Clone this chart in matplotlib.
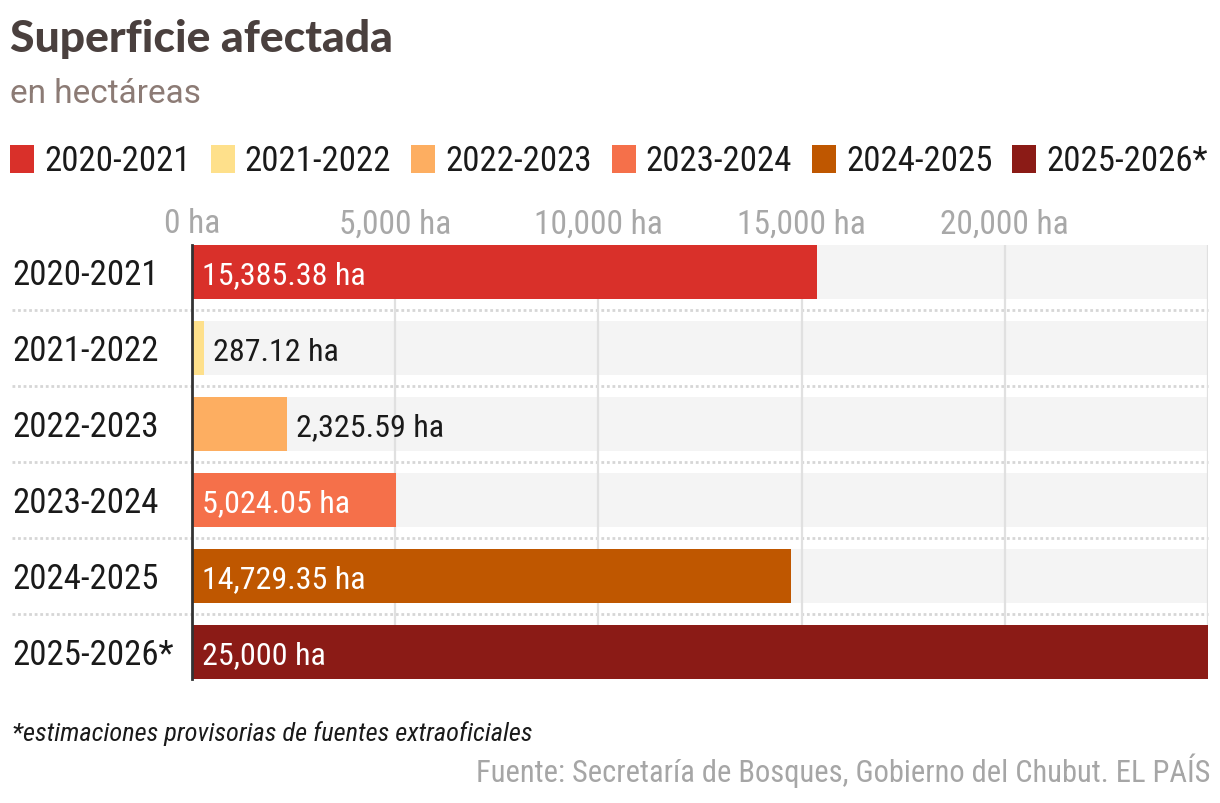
import matplotlib
matplotlib.use('Agg')
import matplotlib.pyplot as plt
from matplotlib import font_manager, transforms
from matplotlib.patches import Rectangle

# ---- data ----
seasons = ['2020-2021', '2021-2022', '2022-2023', '2023-2024', '2024-2025', '2025-2026*']
hectares = [15385.38, 287.12, 2325.59, 5024.05, 14729.35, 25000]
value_labels = ['15,385.38 ha', '287.12 ha', '2,325.59 ha', '5,024.05 ha', '14,729.35 ha', '25,000 ha']
colors = ['#d9302a', '#fee08b', '#fdae61', '#f5704a', '#bf5700', '#8b1b16']
ticks = [0, 5000, 10000, 15000, 20000]
tick_labels = ['0 ha', '5,000 ha', '10,000 ha', '15,000 ha', '20,000 ha']
xmax = 25000

avail = {f.name for f in font_manager.fontManager.ttflist}
def pick(*names):
    for n in names:
        if n in avail:
            return n
    return 'DejaVu Sans'
NARROW = pick('Liberation Sans Narrow', 'Roboto Condensed', 'Roboto', 'Liberation Sans')
HEAVY = pick('Lato', 'Roboto', 'Inter')
REG = pick('Roboto', 'Liberation Sans')

W, H = 1220, 804
fig = plt.figure(figsize=(12.2, 8.04), dpi=100)
fig.patch.set_facecolor('white')
def fx(x): return x / W
def fy(y): return 1 - y / H

ax = fig.add_axes([fx(192), fy(680), fx(1208) - fx(192), (680 - 246) / H])
n = len(seasons)
h = 0.71
ypos = list(range(n))
ax.barh(ypos, [xmax] * n, height=h, color='#f4f4f4', zorder=1)
for t in ticks[1:] + [xmax]:
    ax.axvline(t, color='#e0e0e0', lw=1.6, zorder=2)
ax.barh(ypos, hectares, height=h, color=colors, zorder=3)
ax.set_xlim(0, xmax)
ax.set_ylim(n - 1 + h / 2, -h / 2)
for s in ['top', 'right', 'bottom']:
    ax.spines[s].set_visible(False)
ax.spines['left'].set_color('#333333')
ax.spines['left'].set_linewidth(2)
ax.spines['left'].set_zorder(5)
ax.set_yticks([])
ax.xaxis.tick_top()
ax.set_xticks(ticks)
ax.set_xticklabels(tick_labels, fontfamily=NARROW, fontsize=24, color='#a8a8a8')
ax.tick_params(axis='x', length=0, pad=4)

# row separators
blend = transforms.blended_transform_factory(fig.transFigure, ax.transData)
for i in range(n - 1):
    ax.plot([fx(12), fx(1208)], [i + 0.5, i + 0.5], transform=blend, color='#d6d6d6',
            lw=2, linestyle=(0, (1, 1)), clip_on=False, zorder=0)

# category labels
lab_tr = transforms.offset_copy(blend, fig=fig, x=0, y=-8.6, units='points')
for i, s in enumerate(seasons):
    fig.text(fx(12), i, s, transform=lab_tr, ha='left', va='baseline',
             fontfamily=NARROW, fontsize=25, color='#1a1a1a')

# value labels
for i, (v, lab) in enumerate(zip(hectares, value_labels)):
    if v > 4000:
        tr = transforms.offset_copy(ax.transData, fig=fig, x=7.5, y=-8.3, units='points')
        ax.text(0, i, lab, transform=tr, ha='left', va='baseline', color='white',
                fontfamily=NARROW, fontsize=23, zorder=6)
    else:
        tr = transforms.offset_copy(ax.transData, fig=fig, x=7, y=-8.3, units='points')
        ax.text(v, i, lab, transform=tr, ha='left', va='baseline', color='#1a1a1a',
                fontfamily=NARROW, fontsize=23, zorder=6)

# title / subtitle
fig.text(fx(10), fy(52), 'Superficie afectada', fontfamily=HEAVY, fontweight='black',
         fontsize=32, color='#4a403e', ha='left', va='baseline')
fig.text(fx(10), fy(103), 'en hectáreas', fontfamily=REG, fontsize=24,
         color='#8c7b75', ha='left', va='baseline')

# legend (flowing)
fig.canvas.draw()
rend = fig.canvas.get_renderer()
x = 10
for s, c in zip(seasons, colors):
    fig.patches.append(Rectangle((fx(x), fy(174)), 24 / W, 28 / H, transform=fig.transFigure,
                                 facecolor=c, edgecolor='none'))
    t = fig.text(fx(x + 34), fy(171), s, fontfamily=NARROW, fontsize=25, color='#1a1a1a',
                 ha='left', va='baseline')
    bb = t.get_window_extent(rend)
    x = x + 34 + bb.width + 20

# footer
fig.text(fx(12), fy(741), '*estimaciones provisorias de fuentes extraoficiales',
         fontfamily=NARROW, fontstyle='italic', fontsize=19, color='#1a1a1a',
         ha='left', va='baseline')
fig.text(fx(1210), fy(782), 'Fuente: Secretaría de Bosques, Gobierno del Chubut. EL PAÍS',
         fontfamily=NARROW, fontsize=22, color='#a6a6a6', ha='right', va='baseline')

fig.savefig('out.png', dpi=100, facecolor='white')
